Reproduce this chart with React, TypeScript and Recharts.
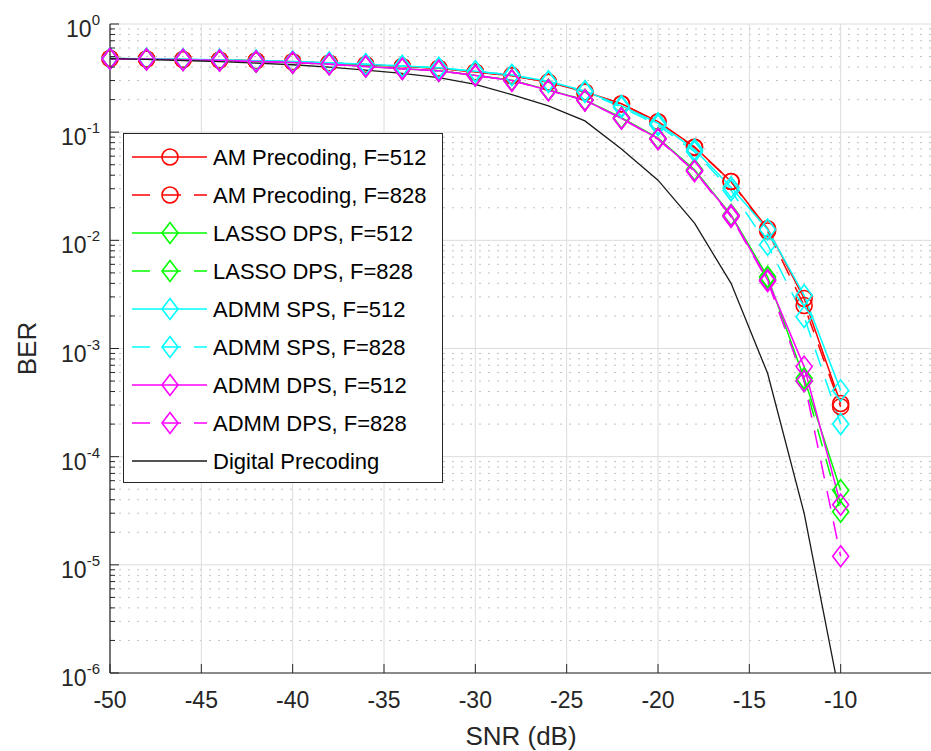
import React from 'react';
import { LineChart, Line, XAxis, YAxis, CartesianGrid, Legend } from 'recharts';

// SNR grid (dB) shared by every curve
const snr = [-50, -48, -46, -44, -42, -40, -38, -36, -34, -32, -30, -28, -26, -24, -22, -20, -18, -16, -14, -12, -10];

const amF512 = [0.48, 0.475, 0.47, 0.465, 0.457, 0.447, 0.436, 0.421, 0.405, 0.39, 0.36, 0.333, 0.29, 0.236, 0.183, 0.125, 0.073, 0.035, 0.0128, 0.0029, 0.00031];
const amF828 = [0.48, 0.475, 0.47, 0.465, 0.457, 0.447, 0.436, 0.421, 0.405, 0.39, 0.36, 0.333, 0.29, 0.234, 0.182, 0.124, 0.072, 0.035, 0.0122, 0.0025, 0.00029];
const lassoF512 = [0.478, 0.472, 0.467, 0.46, 0.45, 0.44, 0.426, 0.406, 0.386, 0.37, 0.335, 0.302, 0.246, 0.198, 0.136, 0.088, 0.045, 0.0172, 0.0046, 0.00053, 0.000049];
const lassoF828 = [0.478, 0.472, 0.467, 0.46, 0.45, 0.44, 0.426, 0.406, 0.386, 0.37, 0.335, 0.302, 0.246, 0.198, 0.135, 0.087, 0.0445, 0.0168, 0.0044, 0.0005, 0.000031];
const spsF512 = [0.48, 0.476, 0.471, 0.466, 0.458, 0.449, 0.438, 0.424, 0.408, 0.393, 0.365, 0.338, 0.295, 0.24, 0.175, 0.121, 0.069, 0.031, 0.0126, 0.0031, 0.00041];
const spsF828 = [0.48, 0.476, 0.471, 0.466, 0.458, 0.449, 0.438, 0.424, 0.408, 0.393, 0.365, 0.338, 0.292, 0.236, 0.17, 0.116, 0.066, 0.029, 0.0091, 0.00196, 0.0002];
const dpsF512 = [0.477, 0.471, 0.466, 0.46, 0.45, 0.44, 0.425, 0.405, 0.385, 0.37, 0.334, 0.3, 0.244, 0.197, 0.134, 0.087, 0.044, 0.017, 0.0043, 0.00068, 0.000036];
const dpsF828 = [0.477, 0.471, 0.466, 0.46, 0.45, 0.44, 0.425, 0.405, 0.385, 0.37, 0.334, 0.3, 0.244, 0.197, 0.134, 0.086, 0.0435, 0.0165, 0.0042, 0.0005, 0.000012];
const digital = [0.478, 0.47, 0.46, 0.448, 0.435, 0.42, 0.4, 0.375, 0.35, 0.32, 0.276, 0.222, 0.175, 0.127, 0.07, 0.036, 0.0144, 0.004, 0.00059, 0.00003, 0.00000056];

const xTicks = [-50, -45, -40, -35, -30, -25, -20, -15, -10];
const yMajor = [1e-6, 1e-5, 1e-4, 1e-3, 1e-2, 1e-1, 1];
const yMinor = yMajor.slice(0, -1).flatMap(d => [2, 3, 4, 5, 6, 7, 8, 9].map(m => m * d));
const yAll = [...yMajor, ...yMinor].sort((a, b) => a - b);

const series = [
  { key: 'am512', name: 'AM Precoding, F=512', color: '#ff0000', dash: false, marker: 'o', values: amF512 },
  { key: 'am828', name: 'AM Precoding, F=828', color: '#ff0000', dash: true, marker: 'o', values: amF828 },
  { key: 'lasso512', name: 'LASSO DPS, F=512', color: '#00ff00', dash: false, marker: 'd', values: lassoF512 },
  { key: 'lasso828', name: 'LASSO DPS, F=828', color: '#00ff00', dash: true, marker: 'd', values: lassoF828 },
  { key: 'sps512', name: 'ADMM SPS, F=512', color: '#00ffff', dash: false, marker: 'd', values: spsF512 },
  { key: 'sps828', name: 'ADMM SPS, F=828', color: '#00ffff', dash: true, marker: 'd', values: spsF828 },
  { key: 'dps512', name: 'ADMM DPS, F=512', color: '#ff00ff', dash: false, marker: 'd', values: dpsF512 },
  { key: 'dps828', name: 'ADMM DPS, F=828', color: '#ff00ff', dash: true, marker: 'd', values: dpsF828 },
];

const data = snr.map((s, i) => {
  const row: Record<string, number> = { snr: s, digital: digital[i] };
  series.forEach(sr => { row[sr.key] = sr.values[i]; });
  return row;
});

const AXIS = '#262626';
const DASH = '18 13';
const FONT = "'Liberation Sans', Arial, Helvetica, sans-serif";

function Marker({ cx, cy, color, kind }: { cx: number; cy: number; color: string; kind: string }) {
  if (cx == null || cy == null) return null;
  if (kind === 'o') {
    return <circle cx={cx} cy={cy} r={8} fill="none" stroke={color} strokeWidth={1.6} />;
  }
  return (
    <path
      d={`M${cx},${cy - 10.5}L${cx + 8},${cy}L${cx},${cy + 10.5}L${cx - 8},${cy}Z`}
      fill="none"
      stroke={color}
      strokeWidth={1.6}
    />
  );
}

const isMajor = (v: number) => Math.abs(Math.log10(v) - Math.round(Math.log10(v))) < 1e-6;

const leftTick = (p: any) => {
  const v = p.payload.value;
  const major = isMajor(v);
  return (
    <g key={`l-${v}`}>
      <line x1={p.x} y1={p.y} x2={p.x + (major ? 9 : 5)} y2={p.y} stroke={AXIS} strokeWidth={1} />
      {major && (
        <text x={p.x - 10} y={p.y + 13} textAnchor="end" fontSize={23} fill={AXIS}>
          <tspan>10</tspan>
          <tspan dy={-12} fontSize={15}>{Math.round(Math.log10(v))}</tspan>
        </text>
      )}
    </g>
  );
};

const rightTick = (p: any) => {
  const v = p.payload.value;
  const major = isMajor(v);
  return <line key={`r-${v}`} x1={p.x} y1={p.y} x2={p.x - (major ? 9 : 5)} y2={p.y} stroke={AXIS} strokeWidth={1} />;
};

const bottomTick = (p: any) => (
  <g key={`b-${p.payload.value}`}>
    <line x1={p.x} y1={p.y} x2={p.x} y2={p.y - 9} stroke={AXIS} strokeWidth={1} />
    <text x={p.x} y={p.y + 35} textAnchor="middle" fontSize={23} fill={AXIS}>{p.payload.value}</text>
  </g>
);

const topTick = (p: any) => (
  <line key={`t-${p.payload.value}`} x1={p.x} y1={p.y} x2={p.x} y2={p.y + 9} stroke={AXIS} strokeWidth={1} />
);

const renderLegend = () => (
  <div style={{ width: 320, height: 350, border: `1px solid ${AXIS}`, background: '#fff', boxSizing: 'border-box' }}>
    <svg width={318} height={348}>
      {[...series, { key: 'digital', name: 'Digital Precoding', color: '#1a1a1a', dash: false, marker: '', values: digital }].map((s, i) => {
        const cy = 23 + 38 * i;
        return (
          <g key={s.key}>
            <line x1={8} y1={cy} x2={83} y2={cy} stroke={s.color} strokeWidth={s.key === 'digital' ? 1.3 : 1.5} strokeDasharray={s.dash ? DASH : undefined} />
            {s.marker && <Marker cx={46} cy={cy} color={s.color} kind={s.marker} />}
            <text x={89} y={cy + 8} fontSize={22} fill="#000">{s.name}</text>
          </g>
        );
      })}
    </svg>
  </div>
);

export default function App() {
  return (
    <div style={{ position: 'absolute', left: 0, top: 0, width: 931, height: 751, overflow: 'hidden', background: '#fff', fontFamily: FONT }}>
      <LineChart width={960} height={751} data={data} margin={{ top: 24, right: 28, bottom: 0, left: 0 }}>
        <CartesianGrid horizontalValues={yMinor} vertical={false} stroke="#c2c2c2" strokeDasharray="2 7" />
        <CartesianGrid horizontalValues={yMajor} verticalValues={xTicks} stroke="#dcdcdc" />
        <XAxis
          dataKey="snr"
          type="number"
          domain={[-50, -5]}
          ticks={xTicks}
          interval={0}
          tickSize={0}
          tickMargin={0}
          tickLine={false}
          tick={bottomTick}
          axisLine={{ stroke: AXIS, strokeWidth: 1.2 }}
          height={78}
          label={{ value: 'SNR (dB)', position: 'insideBottom', offset: 6, fontSize: 26, fill: AXIS }}
        />
        <XAxis
          xAxisId="top"
          orientation="top"
          type="number"
          domain={[-50, -5]}
          allowDataOverflow
          ticks={xTicks}
          interval={0}
          tickSize={0}
          tickMargin={0}
          tickLine={false}
          tick={topTick}
          axisLine={{ stroke: AXIS, strokeWidth: 1.2 }}
          height={0}
        />
        <YAxis
          scale="log"
          type="number"
          domain={[1e-6, 1]}
          ticks={yAll}
          interval={0}
          tickSize={0}
          tickMargin={0}
          tickLine={false}
          tick={leftTick}
          axisLine={{ stroke: AXIS, strokeWidth: 1.2 }}
          width={110}
          label={{ value: 'BER', angle: -90, position: 'insideLeft', offset: 27, fontSize: 26, fill: AXIS, style: { textAnchor: 'middle' } }}
        />
        <YAxis
          yAxisId="right"
          orientation="right"
          scale="log"
          type="number"
          domain={[1e-6, 1]}
          allowDataOverflow
          ticks={yAll}
          interval={0}
          tickSize={0}
          tickMargin={0}
          tickLine={false}
          tick={rightTick}
          axisLine={{ stroke: AXIS, strokeWidth: 1.2 }}
          width={0}
        />
        <YAxis yAxisId="clip" hide scale="log" type="number" domain={[1e-6, 1]} allowDataOverflow />
        {series.map(s => (
          <Line
            key={s.key}
            dataKey={s.key}
            name={s.name}
            type="linear"
            stroke={s.color}
            strokeWidth={1.5}
            strokeDasharray={s.dash ? DASH : undefined}
            dot={(p: any) => <Marker key={`${s.key}-${p.index}`} cx={p.cx} cy={p.cy} color={s.color} kind={s.marker} />}
            activeDot={false}
            isAnimationActive={false}
          />
        ))}
        <Line
          yAxisId="clip"
          dataKey="digital"
          name="Digital Precoding"
          type="linear"
          stroke="#1a1a1a"
          strokeWidth={1.3}
          dot={false}
          activeDot={false}
          isAnimationActive={false}
        />
        <Legend
          layout="vertical"
          align="center"
          verticalAlign="middle"
          content={renderLegend}
          wrapperStyle={{ left: 123, top: 133, width: 320, height: 350 }}
        />
      </LineChart>
    </div>
  );
}
